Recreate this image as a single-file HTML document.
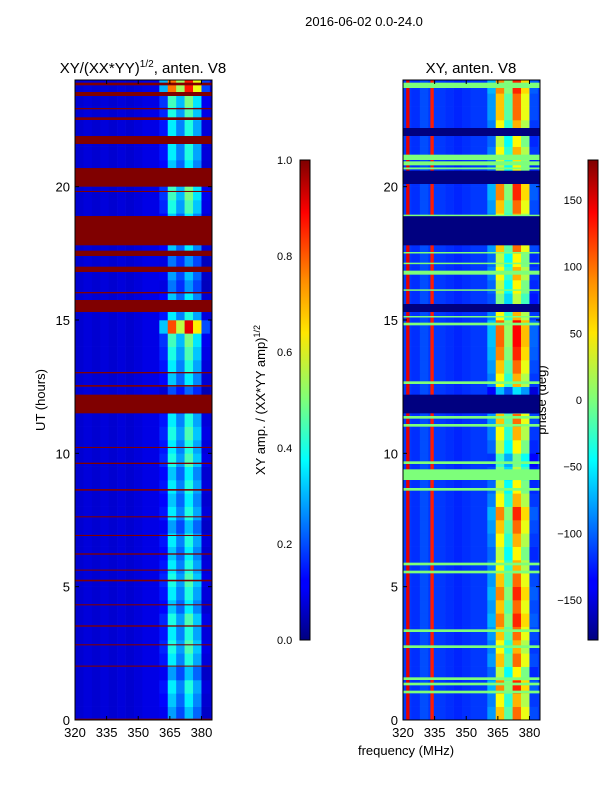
<!DOCTYPE html>
<html><head><meta charset="utf-8"><style>
body{margin:0;background:#fff;font-family:"Liberation Sans",sans-serif}
svg text{font-family:"Liberation Sans",sans-serif;fill:#000}
</style></head><body>
<svg id="chart" width="600" height="800" xmlns="http://www.w3.org/2000/svg">
<rect width="600" height="800" fill="#fff"/>
<text x="364" y="26" font-size="13" text-anchor="middle">2016-06-02 0.0-24.0</text>
<text x="143" y="73" font-size="15" text-anchor="middle">XY/(XX*YY)<tspan font-size="10" dy="-6">1/2</tspan><tspan dy="6">, anten. V8</tspan></text>
<text x="471" y="73" font-size="15" text-anchor="middle">XY, anten. V8</text>
<text transform="translate(45,400) rotate(-90)" font-size="13" text-anchor="middle">UT (hours)</text>
<text transform="translate(265,400) rotate(-90)" font-size="13" text-anchor="middle">XY amp. / (XX*YY amp)<tspan font-size="9" dy="-5">1/2</tspan></text>
<text transform="translate(546,400) rotate(-90)" font-size="13" text-anchor="middle">phase (deg)</text>
<text x="406" y="755" font-size="13" text-anchor="middle">frequency (MHz)</text>
<g id="left"></g>
<g id="right"></g>
<g id="axes"></g>
<defs>
<linearGradient id="jet" x1="0" y1="1" x2="0" y2="0">
<stop offset="0" stop-color="#00007f"/><stop offset="0.11" stop-color="#0000ff"/><stop offset="0.125" stop-color="#0000ff"/><stop offset="0.34" stop-color="#00dcff"/><stop offset="0.375" stop-color="#00ffff"/><stop offset="0.5" stop-color="#7dff7a"/><stop offset="0.64" stop-color="#ffe600"/><stop offset="0.75" stop-color="#ff8c00"/><stop offset="0.89" stop-color="#ff0000"/><stop offset="1" stop-color="#7f0000"/>
</linearGradient>
</defs>
<rect x="300" y="160" width="10" height="480" fill="url(#jet)" stroke="#000" stroke-width="1"/>
<rect x="588" y="160" width="10" height="480" fill="url(#jet)" stroke="#000" stroke-width="1"/>
</svg>
<script>
// ---- data ----
const freqs = [320,324,328,332,336,340,344,348,352,356,360,364,368,372,376,380];
const leftSpectrum = [0.08,0.09,0.08,0.09,0.08,0.09,0.08,0.09,0.1,0.1,0.16,0.4,0.28,0.45,0.32,0.1];
const rightSpectrum = [0.18,0.17,0.2,0.18,0.18,0.17,0.16,0.17,0.18,0.18,0.25,0.62,0.42,0.7,0.55,0.18];
const redStripeFreqs = [321.5,333];
const redStripeValues = [0.9,0.85];
const utRows = [0,0.5,1,1.5,2,2.5,3,3.5,4,4.5,5,5.5,6,6.5,7,7.5,8,8.5,9,9.5,10,10.5,11,11.5,12,12.5,13,13.5,14,14.5,15,15.5,16,16.5,17,17.5,18,18.5,19,19.5,20,20.5,21,21.5,22,22.5,23,23.5];
const leftLevels = [0.7,0.8,0.9,0.7,0.9,1,0.9,1,0.8,0.9,1,0.9,0.8,0.9,0.7,0.9,0.8,0.9,0.8,1,0.9,1,0.9,0.5,0.5,0.8,0.9,1,1.1,2.0,0.9,0.8,0.6,0.7,0.6,0.8,0.8,0.8,1,1.1,1,0.8,0.9,0.9,0.9,1,1.1,1.9];
const rightLevels = [1.1,1.0,1.2,0.9,1.1,1.0,1.1,1.2,1.1,1.2,1.1,1.0,0.9,1.0,1.1,1.2,1.0,0.9,0.8,0.7,0.9,1.0,1.1,0.5,0.5,1.0,1.1,1.2,1.25,1.25,1.0,0.8,0.9,1.0,0.9,1.1,1.0,1.0,1.1,1.2,1.2,0.9,1.0,0.9,1.0,1.1,1.1,1.2];
const leftFlagStart = [0.0,2.0,2.8,3.5,4.3,5.2,5.6,6.2,6.9,7.6,8.6,9.6,10.2,11.5,12.5,13.0,15.3,16.0,16.8,17.4,17.8,20.0,21.6,22.5,23.4,23.8,19.8,22.9];
const leftFlagEnd   = [0.05,2.04,2.84,3.55,4.34,5.26,5.64,6.25,6.94,7.64,8.66,9.65,10.24,12.2,12.56,13.05,15.75,16.05,17.0,17.6,18.9,20.7,21.9,22.6,23.55,23.9,19.84,22.95];
const rightNavyStart = [11.5,15.3,17.8,20.1,21.9];
const rightNavyEnd   = [12.2,15.6,18.9,20.6,22.2];
const rightGreenStart = [1.0,1.3,1.5,2.7,3.3,5.5,5.8,8.6,9.0,9.6,11.0,11.3,12.6,14.8,15.1,16.1,16.7,17.1,17.5,18.9,20.65,20.8,21.0,23.9];
const rightGreenEnd   = [1.1,1.4,1.6,2.8,3.4,5.6,5.9,8.7,9.4,9.7,11.1,11.4,12.7,14.9,15.15,16.15,16.85,17.15,17.55,18.95,20.72,20.95,21.2,23.7];
const ampTicks = [0.0,0.2,0.4,0.6,0.8,1.0];
const phaseTicks = [-150,-100,-50,0,50,100,150];
const xTicks = [320,335,350,365,380];
const yTicks = [0,5,10,15,20];

// ---- scales ----
const F0=320,F1=385;
function sy(ut){return 720-ut/24*640;}
function sxL(f){return 75+(f-F0)/(F1-F0)*137;}
function sxR(f){return 403+(f-F0)/(F1-F0)*137;}
function jet(v){v=Math.max(0,Math.min(1,v));
 const r=Math.max(0,Math.min(1,1.5-Math.abs(4*v-3))),g=Math.max(0,Math.min(1,1.5-Math.abs(4*v-2))),b=Math.max(0,Math.min(1,1.5-Math.abs(4*v-1)));
 return `rgb(${Math.round(r*255)},${Math.round(g*255)},${Math.round(b*255)})`;}
const NS='http://www.w3.org/2000/svg';
function rect(g,x,y,w,h,fill,name){const r=document.createElementNS(NS,'rect');
 r.setAttribute('x',x);r.setAttribute('y',y);r.setAttribute('width',w);r.setAttribute('height',h);r.setAttribute('fill',fill);
 
 
 g.appendChild(r);return r;}
function drawPanel(gid,sx,spec,levels,base){
 const g=document.getElementById(gid);
 utRows.forEach((ut,i)=>{
  freqs.forEach((f,j)=>{
   let v=(f<360)?spec[j]:spec[j]*levels[i];
   const x0=sx(f),x1=sx(Math.min(f+4,F1));
   rect(g,x0,sy(ut+0.5),x1-x0+0.3,sy(ut)-sy(ut+0.5)+0.3,jet(v),'heatmap-cell');
  });
  const last=freqs[freqs.length-1]+4;
  rect(g,sx(last),sy(ut+0.5),sx(F1)-sx(last),sy(ut)-sy(ut+0.5)+0.3,jet(base),'heatmap-cell');
 });
}
drawPanel('left',sxL,leftSpectrum,leftLevels,0.08);
drawPanel('right',sxR,rightSpectrum,rightLevels,0.18);
const gl=document.getElementById('left');
leftFlagStart.forEach((s,i)=>{rect(gl,75,sy(leftFlagEnd[i]),137,Math.max(1,sy(s)-sy(leftFlagEnd[i])),'#800000','flagged-band');});
const gr=document.getElementById('right');
redStripeFreqs.forEach((f,i)=>{rect(gr,sxR(f),80,sxR(f+1.6)-sxR(f),640,jet(redStripeValues[i]),'red-phase-stripe');});
rightNavyStart.forEach((s,i)=>{rect(gr,403,sy(rightNavyEnd[i]),137,Math.max(1,sy(s)-sy(rightNavyEnd[i])),'#000080','flagged-band');});
rightGreenStart.forEach((s,i)=>{const a=Math.max(s,rightGreenEnd[i]),b=Math.min(s,rightGreenEnd[i]);
 rect(gr,403,sy(a),137,Math.max(1.5,sy(b)-sy(a)),'#7dff7a','zero-phase-band');});

// ---- axes ----
const ax=document.getElementById('axes');
function line(x1,y1,x2,y2,name){const l=document.createElementNS(NS,'line');
 l.setAttribute('x1',x1);l.setAttribute('y1',y1);l.setAttribute('x2',x2);l.setAttribute('y2',y2);l.setAttribute('stroke','#000');
 
 
 ax.appendChild(l);}
function text(x,y,s,anchor,name,size){const t=document.createElementNS(NS,'text');
 t.setAttribute('x',x);t.setAttribute('y',y);t.setAttribute('font-size',size||'13');t.setAttribute('text-anchor',anchor);t.textContent=s;
 
 
 ax.appendChild(t);return t;}
[[75,sxL],[403,sxR]].forEach(([x0,sx])=>{
 const r=document.createElementNS(NS,'rect');
 r.setAttribute('x',x0);r.setAttribute('y',80);r.setAttribute('width',137);r.setAttribute('height',640);r.setAttribute('fill','none');r.setAttribute('stroke','#000');
 
 
 ax.appendChild(r);
 xTicks.forEach(f=>{line(sx(f),720,sx(f),716,'x-tick');line(sx(f),80,sx(f),84,'x-tick');text(sx(f),737,String(f),'middle','x-tick-label');});
 yTicks.forEach(u=>{line(x0,sy(u),x0+4,sy(u),'y-tick');line(x0+137,sy(u),x0+133,sy(u),'y-tick');text(x0-5,sy(u)+5,String(u),'end','y-tick-label');});
});
ampTicks.forEach(v=>{const y=640-v*480;line(306,y,310,y,'colorbar-tick');text(277,y+4,v.toFixed(1),'start','colorbar-tick-label','11');});
phaseTicks.forEach(v=>{const y=640-(v+180)/360*480;line(594,y,598,y,'colorbar-tick');text(582,y+4,v<0?'\u2212'+Math.abs(v):String(v),'end','colorbar-tick-label','11');});
</script>
</body></html>
